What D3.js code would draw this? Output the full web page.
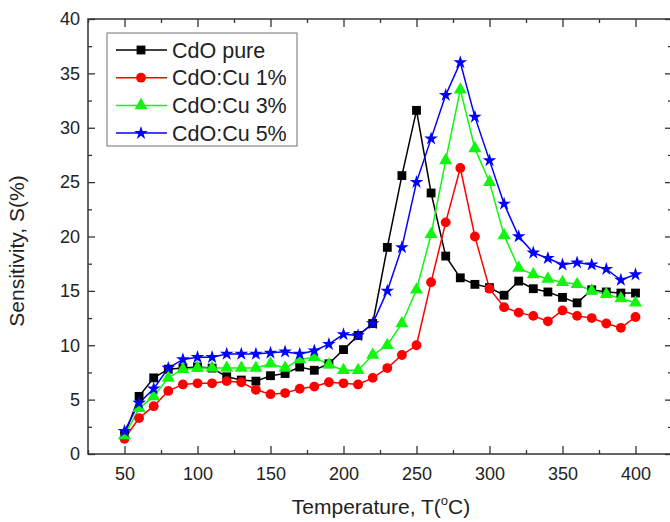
<!DOCTYPE html>
<html>
<head>
<meta charset="utf-8">
<script src="https://cdn.jsdelivr.net/npm/d3@7"></script>
<style>
  body { margin: 0; background: #fff; }
  svg text { font-family: "Liberation Sans", Arial, sans-serif; fill: #222; }
</style>
</head>
<body>
<div id="chart"></div>
<script>
// temperatures (deg C)
const temps = [50, 60, 70, 80, 90, 100, 110, 120, 130, 140, 150, 160, 170, 180,
    190, 200, 210, 220, 230, 240, 250, 260, 270, 280, 290, 300, 310, 320, 330,
    340, 350, 360, 370, 380, 390, 400];

const cdoPure = [1.7, 5.3, 7.0, 7.8, 7.9, 8.0, 7.9, 7.1, 6.8, 6.7, 7.2, 7.4, 8.0, 7.7,
    8.3, 9.6, 10.9, 12.0, 19.0, 25.6, 31.6, 24.0, 18.2, 16.2, 15.6, 15.3, 14.6, 15.9,
    15.2, 14.9, 14.4, 13.9, 15.1, 14.9, 14.8, 14.8];
const cdoCu1 = [1.4, 3.3, 4.4, 5.8, 6.4, 6.5, 6.5, 6.7, 6.6, 5.9, 5.5, 5.6, 6.0, 6.2,
    6.6, 6.5, 6.4, 7.0, 7.9, 9.1, 10.0, 15.8, 21.3, 26.3, 20.0, 15.2, 13.5, 13.0,
    12.7, 12.2, 13.2, 12.7, 12.5, 12.0, 11.6, 12.6];
const cdoCu3 = [1.7, 4.2, 5.3, 7.0, 7.8, 7.9, 7.9, 7.9, 7.9, 7.9, 8.3, 7.9, 8.7, 8.9,
    8.2, 7.7, 7.7, 9.1, 10.0, 12.0, 15.1, 20.2, 27.0, 33.5, 28.1, 25.0, 20.1, 17.1,
    16.5, 16.1, 15.8, 15.6, 15.0, 14.7, 14.3, 13.9];
const cdoCu5 = [2.1, 4.7, 6.0, 7.9, 8.7, 8.9, 8.9, 9.2, 9.2, 9.2, 9.3, 9.4, 9.2, 9.5,
    10.1, 11.0, 10.9, 12.0, 15.0, 19.0, 25.0, 29.0, 33.0, 36.0, 31.0, 27.0, 23.0, 20.0,
    18.5, 18.0, 17.4, 17.6, 17.4, 17.0, 16.0, 16.5];

const seriesNames = ["CdO pure", "CdO:Cu 1%", "CdO:Cu 3%", "CdO:Cu 5%"];
const xTicks = [50, 100, 150, 200, 250, 300, 350, 400];
const yTicks = [0, 5, 10, 15, 20, 25, 30, 35, 40];

const series = [
    {name: seriesNames[0], values: cdoPure, color: "#000000", symbol: d3.symbolSquare, size: 78},
    {name: seriesNames[1], values: cdoCu1, color: "#ff0000", symbol: d3.symbolCircle, size: 76},
    {name: seriesNames[2], values: cdoCu3, color: "#11f511", symbol: d3.symbolTriangle, size: 74},
    {name: seriesNames[3], values: cdoCu5, color: "#0000ff", symbol: d3.symbolStar, size: 58}
];

const width = 670, height = 522;
const margin = {left: 88, top: 19, right: -2, bottom: 68};

const svg = d3.select("#chart").append("svg")
    .attr("width", width)
    .attr("height", height);

const x = d3.scaleLinear().domain([25, 425]).range([margin.left, width - margin.right]);
const y = d3.scaleLinear().domain([0, 40]).range([height - margin.bottom, margin.top]);

const minorX = d3.range(25, 426, 50);
const minorY = d3.range(2.5, 40, 5);

function styleAxis(g) {
    g.select(".domain").remove();
    g.selectAll("line").attr("stroke", "#333").attr("stroke-width", 1.3);
    g.selectAll("text").attr("font-size", 18).attr("fill", "#222");
}

// bottom
svg.append("g").attr("transform", `translate(0,${y(0)})`)
    .call(d3.axisBottom(x).tickValues(xTicks).tickSize(-8).tickPadding(13))
    .call(styleAxis);
svg.append("g").attr("transform", `translate(0,${y(0)})`)
    .call(d3.axisBottom(x).tickValues(minorX).tickSize(-4).tickFormat(""))
    .call(styleAxis);
// top
svg.append("g").attr("transform", `translate(0,${y(40)})`)
    .call(d3.axisTop(x).tickValues(xTicks).tickSize(-8).tickFormat(""))
    .call(styleAxis);
svg.append("g").attr("transform", `translate(0,${y(40)})`)
    .call(d3.axisTop(x).tickValues(minorX).tickSize(-4).tickFormat(""))
    .call(styleAxis);
// left
svg.append("g").attr("transform", `translate(${x(25)},0)`)
    .call(d3.axisLeft(y).tickValues(yTicks).tickSize(-7).tickPadding(8))
    .call(styleAxis);
svg.append("g").attr("transform", `translate(${x(25)},0)`)
    .call(d3.axisLeft(y).tickValues(minorY).tickSize(-4).tickFormat(""))
    .call(styleAxis);
// right
svg.append("g").attr("transform", `translate(${x(425)},0)`)
    .call(d3.axisRight(y).tickValues(yTicks).tickSize(-7).tickFormat(""))
    .call(styleAxis);
svg.append("g").attr("transform", `translate(${x(425)},0)`)
    .call(d3.axisRight(y).tickValues(minorY).tickSize(-4).tickFormat(""))
    .call(styleAxis);

// frame
svg.append("rect")
    .attr("x", x(25)).attr("y", y(40))
    .attr("width", x(425) - x(25)).attr("height", y(0) - y(40))
    .attr("fill", "none").attr("stroke", "#333").attr("stroke-width", 1.5);

const line = d3.line()
    .x((d, i) => x(temps[i]))
    .y(d => y(d));

series.forEach(s => {
    svg.append("path")
        .datum(s.values)
        .attr("fill", "none")
        .attr("stroke", s.color)
        .attr("stroke-width", 1.5)
        .attr("d", line);
});
series.forEach(s => {
    svg.append("g").selectAll("path")
        .data(s.values)
        .enter().append("path")
        .attr("transform", (d, i) => `translate(${x(temps[i])},${y(d)})`)
        .attr("d", d3.symbol().type(s.symbol).size(s.size))
        .attr("fill", s.color);
});

// legend
const legend = svg.append("g").attr("transform", "translate(107,33)");
legend.append("rect")
    .attr("width", 190).attr("height", 113)
    .attr("fill", "#fff").attr("stroke", "#888").attr("stroke-width", 1.2);
series.forEach((s, i) => {
    const cy = 17 + i * 27.7;
    legend.append("line")
        .attr("x1", 9).attr("x2", 60).attr("y1", cy).attr("y2", cy)
        .attr("stroke", s.color).attr("stroke-width", 1.5);
    legend.append("path")
        .attr("transform", `translate(34,${cy})`)
        .attr("d", d3.symbol().type(s.symbol).size(s.size))
        .attr("fill", s.color);
    legend.append("text")
        .attr("x", 65).attr("y", cy)
        .attr("dy", "0.36em")
        .attr("font-size", 21.5)
        .text(s.name);
});

// axis titles
const xTitle = svg.append("text")
    .attr("x", 381).attr("y", 514)
    .attr("text-anchor", "middle")
    .attr("font-size", 21);
xTitle.append("tspan").text("Temperature, T(");
xTitle.append("tspan").attr("font-size", 13).attr("dy", -9).text("o");
xTitle.append("tspan").attr("dy", 9).text("C)");

svg.append("text")
    .attr("transform", "translate(24,251) rotate(-90)")
    .attr("text-anchor", "middle")
    .attr("font-size", 21)
    .text("Sensitivity, S(%)");
</script>
</body>
</html>
